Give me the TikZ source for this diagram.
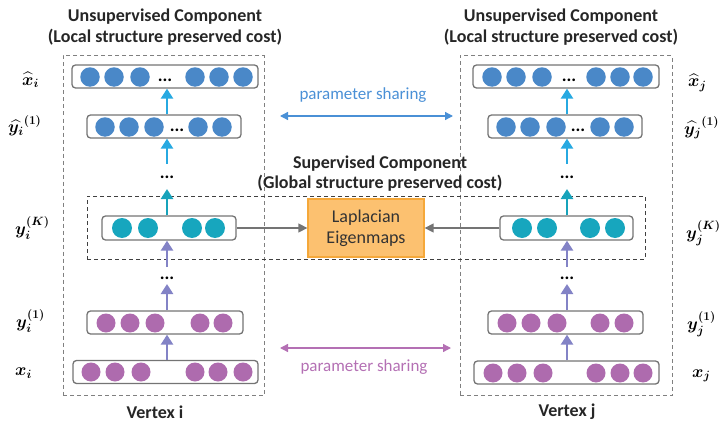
\documentclass[tikz,border=0pt]{standalone}
\usepackage{amsmath,bm}
\usepackage[no-math]{fontspec}
\setmainfont{Carlito}
\usetikzlibrary{arrows.meta}
\definecolor{cblue}{HTML}{4A88C8}
\definecolor{cteal}{HTML}{17A6BE}
\definecolor{cpurp}{HTML}{AE6BAE}
\definecolor{alblue}{HTML}{27A9E1}
\definecolor{ateal}{HTML}{17A3BB}
\definecolor{apurp}{HTML}{8383C6}
\definecolor{psblue}{HTML}{4A90D6}
\definecolor{pspurp}{HTML}{B470B4}
\definecolor{orfill}{HTML}{FCC170}
\definecolor{ordraw}{HTML}{F5A83A}
\definecolor{bgray}{HTML}{747474}
\tikzset{
  layerbox/.style={draw=bgray,line width=1.3pt,rounded corners=3.5pt,fill=white,inner sep=0pt},
  neuron/.style={circle,inner sep=0pt,minimum size=#1},
  bneu/.style={neuron=19.5pt,fill=cblue},
  tneu/.style={neuron=20pt,fill=cteal},
  pneu/.style={neuron=19pt,fill=cpurp},
  vdots/.style={font=\bfseries\fontsize{18}{18}\selectfont,inner sep=0pt},
  flow/.style={line width=2.8pt,-{Triangle[width=12pt,length=10pt]}},
  grayarr/.style={draw=bgray,line width=1.4pt,-{Triangle[width=9pt,length=9pt]}},
  share/.style={line width=1.3pt,{Triangle[width=8pt,length=8pt]}-{Triangle[width=8pt,length=8pt]}},
  outerdash/.style={draw=gray,line width=1pt,dash pattern=on 4pt off 3pt,inner sep=0pt},
  superdash/.style={draw=black!75,line width=1pt,dash pattern=on 4pt off 3pt,inner sep=0pt},
  title/.style={font=\bfseries\fontsize{18}{20.5}\selectfont,text=black!85,align=center},
  lab/.style={font=\fontsize{18}{20}\selectfont,anchor=west,inner sep=0pt},
  pstext/.style={font=\fontsize{17}{18}\selectfont,inner sep=0pt}
}
\begin{document}
\begin{tikzpicture}[x=1pt,y=-1pt]
\useasboundingbox (0,0) rectangle (721,423);
% dashed containers
\node[outerdash,minimum width=201pt,minimum height=340pt] (outl) at (163.5,225.5) {};
\node[outerdash,minimum width=212pt,minimum height=340pt] (outr) at (566,225.5) {};
\node[superdash,minimum width=558pt,minimum height=63pt] (sup) at (366,227.5) {};
% titles
\node[title] (tl) at (165,27) {Unsupervised Component\\(Local structure preserved cost)};
\node[title] (tr) at (561,27) {Unsupervised Component\\(Local structure preserved cost)};
\node[title] (ts) at (380,173.5) {Supervised Component\\(Global structure preserved cost)};
\node[title] (vi) at (155,412) {Vertex i};
\node[title] (vj) at (567,412) {Vertex j};
% ---------- left column ----------
\node[layerbox,minimum width=186pt,minimum height=23pt] (xhi) at (165,76.5) {};
\foreach \x [count=\k] in {90,114,140,195,219,243} \node[bneu] (xhi\k) at (\x,77) {};
\node[vdots] (xhid) at (165,80) {...};
\node[layerbox,minimum width=154pt,minimum height=23pt] (yhi) at (164,126.5) {};
\foreach \x [count=\k] in {105,129,154,198,222} \node[bneu] (yhi\k) at (\x,127) {};
\node[vdots] (yhid) at (177,130) {...};
\node[layerbox,minimum width=134pt,minimum height=24pt] (yki) at (169,228) {};
\foreach \x [count=\k] in {122,148,192,215} \node[tneu] (yki\k) at (\x,228) {};
\node[layerbox,minimum width=156pt,minimum height=23pt] (y1i) at (165,322.5) {};
\foreach \x [count=\k] in {106,130,155,200,223} \node[pneu] (y1i\k) at (\x,323) {};
\node[layerbox,minimum width=185pt,minimum height=23pt] (xi) at (165.5,372) {};
\foreach \x [count=\k] in {91,115,141,195,218,243} \node[pneu] (xi\k) at (\x,372) {};
\node[vdots] (dli1) at (167,177) {...};
\node[vdots] (dli2) at (167,278) {...};
\coordinate (ali1) at (167,164);
\coordinate (ali2) at (167,189);
\coordinate (ali3) at (167,267);
\coordinate (ali4) at (167,284);
\draw[flow,alblue] (yhi.north -| ali1) -- (xhi.south -| ali1);
\draw[flow,alblue] (ali1) -- (yhi.south -| ali1);
\draw[flow,ateal] (yki.north -| ali2) -- (ali2);
\draw[flow,apurp] (ali3) -- (yki.south -| ali3);
\draw[flow,apurp] (y1i.north -| ali4) -- (ali4);
\draw[flow,apurp] (xi.north -| ali4) -- (y1i.south -| ali4);
% ---------- right column ----------
\node[layerbox,minimum width=186pt,minimum height=23pt] (xhj) at (566,76.5) {};
\foreach \x [count=\k] in {492,516,542,596,620,643} \node[bneu] (xhj\k) at (\x,77) {};
\node[vdots] (xhjd) at (569,80) {...};
\node[layerbox,minimum width=154pt,minimum height=23pt] (yhj) at (565,126.5) {};
\foreach \x [count=\k] in {506,530,556,600,624} \node[bneu] (yhj\k) at (\x,127) {};
\node[vdots] (yhjd) at (578,130) {...};
\node[layerbox,minimum width=133pt,minimum height=24pt] (ykj) at (566.5,228) {};
\foreach \x [count=\k] in {522,547,590,615} \node[tneu] (ykj\k) at (\x,228) {};
\node[layerbox,minimum width=155pt,minimum height=23pt] (y1j) at (565.5,322.5) {};
\foreach \x [count=\k] in {507,531,557,600,624} \node[pneu] (y1j\k) at (\x,323) {};
\node[layerbox,minimum width=185pt,minimum height=23pt] (xj) at (566.5,372.5) {};
\foreach \x [count=\k] in {493,517,543,596,620,643} \node[pneu] (xj\k) at (\x,373) {};
\node[vdots] (dlj1) at (567,177) {...};
\node[vdots] (dlj2) at (567,278) {...};
\coordinate (alj1) at (567,164);
\coordinate (alj2) at (567,189);
\coordinate (alj3) at (567,267);
\coordinate (alj4) at (567,284);
\draw[flow,alblue] (yhj.north -| alj1) -- (xhj.south -| alj1);
\draw[flow,alblue] (alj1) -- (yhj.south -| alj1);
\draw[flow,ateal] (ykj.north -| alj2) -- (alj2);
\draw[flow,apurp] (alj3) -- (ykj.south -| alj3);
\draw[flow,apurp] (y1j.north -| alj4) -- (alj4);
\draw[flow,apurp] (xj.north -| alj4) -- (y1j.south -| alj4);
% ---------- Laplacian ----------
\node[draw=ordraw,fill=orfill,line width=1.3pt,minimum width=116pt,minimum height=58pt,align=center,
      font=\fontsize{18}{21}\selectfont,text=black!80] (lap) at (366,228) {Laplacian\\Eigenmaps};
\draw[grayarr] (yki.east) -- (lap.west);
\draw[grayarr] (ykj.west) -- (lap.east);
% ---------- parameter sharing ----------
\coordinate (psb1) at (280,116);
\coordinate (psb2) at (453,116);
\coordinate (psp1) at (280,348);
\coordinate (psp2) at (451,348);
\draw[share,psblue] (psb1) -- (psb2);
\draw[share,pspurp] (psp1) -- (psp2);
\node[pstext,text=psblue] (pstb) at (363,95) {parameter sharing};
\node[pstext,text=pspurp] (pstp) at (364,367) {parameter sharing};
% ---------- labels ----------
\node[lab] (lxhi) at (22,80) {$\bm{\widehat{x}_i}$};
\node[lab] (lyhi) at (8,126) {$\bm{\widehat{y_i}^{(1)}}$};
\node[lab] (lyki) at (15,228) {$\bm{y_i^{(K)}}$};
\node[lab] (ly1i) at (16,321) {$\bm{y_i^{(1)}}$};
\node[lab] (lxi) at (15,373) {$\bm{x_i}$};
\node[lab] (lxhj) at (688,83) {$\bm{\widehat{x}_j}$};
\node[lab] (lyhj) at (684,128) {$\bm{\widehat{y_j}^{(1)}}$};
\node[lab] (lykj) at (686,233) {$\bm{y_j^{(K)}}$};
\node[lab] (ly1j) at (687,324) {$\bm{y_j^{(1)}}$};
\node[lab] (lxj) at (692,376) {$\bm{x_j}$};
\end{tikzpicture}
\end{document}
